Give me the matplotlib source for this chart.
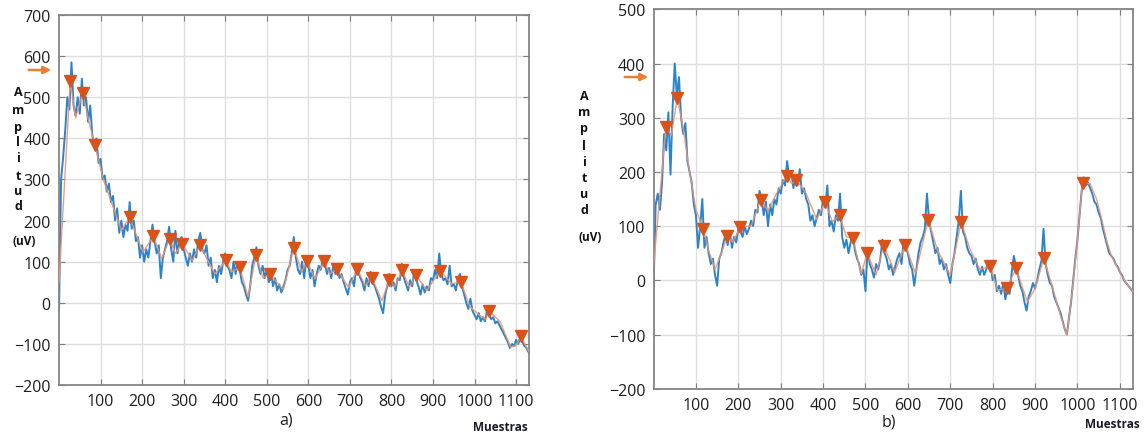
import matplotlib
matplotlib.use("Agg")
import matplotlib.pyplot as plt
from matplotlib.patches import FancyArrowPatch
import numpy as np

plt.rcParams['font.family'] = ['Open Sans', 'DejaVu Sans']

# raw signal, one value every 5 samples
raw_step = 5
raw_a = [
    -20, 300, 355, 420, 500, 470, 585, 480, 455, 500, 460, 545, 480, 500, 440, 480, 410, 380, 400, 340,
    350, 300, 310, 270, 290, 245, 260, 200, 230, 170, 200, 160, 190, 175, 245, 180, 200, 150, 160, 110,
    140, 100, 130, 110, 150, 190, 150, 120, 140, 60, 110, 130, 150, 185, 130, 100, 175, 120, 150, 160,
    130, 110, 90, 120, 100, 130, 110, 150, 170, 130, 120, 140, 90, 110, 60, 80, 50, 90, 70, 100,
    120, 90, 80, 60, 100, 70, 100, 80, 50, 40, 20, 5, 40, 90, 110, 135, 90, 70, 90, 60,
    80, 50, 75, 40, 60, 30, 45, 25, 40, 55, 80, 90, 120, 160, 110, 80, 70, 100, 60, 110,
    90, 60, 80, 40, 70, 90, 80, 110, 95, 70, 85, 60, 90, 70, 95, 60, 70, 50, 35, 20,
    50, 60, 40, 85, 75, 60, 50, 30, 60, 40, 75, 50, 40, 25, 10, -10, -25, 20, 40, 70,
    40, 50, 30, 60, 55, 95, 60, 45, 30, 55, 40, 80, 55, 40, 20, 45, 25, 40, 30, 60,
    55, 80, 60, 120, 70, 55, 60, 45, 90, 40, 45, 30, 60, 70, 40, 20, 0, -15, 10, -20,
    -30, -40, -25, -45, -35, -45, -20, -30, -40, -35, -50, -45, -55, -65, -75, -85, -95, -110, -100, -105,
    -90, -100, -85, -95, -105, -110, -120,
]
raw_b = [
    -15, 140, 160, 130, 180, 270, 240, 310, 195, 320, 400, 340, 375, 300, 270, 290, 220, 200, 180, 140,
    120, 60, 100, 150, 60, 80, 50, 30, 40, 10, -10, 40, 50, 70, 85, 65, 90, 60, 80, 70,
    95, 90, 80, 100, 85, 95, 110, 100, 130, 125, 165, 150, 120, 145, 100, 140, 120, 150, 140, 170,
    160, 185, 175, 220, 190, 200, 170, 195, 175, 205, 160, 170, 150, 140, 110, 120, 100, 115, 130, 120,
    150, 135, 175, 100, 110, 90, 120, 110, 160, 80, 60, 75, 50, 70, 85, 55, 40, 30, 10, 20,
    -20, 60, 30, 20, 5, 30, 20, 40, 75, 50, 40, 20, 30, 10, 25, 40, 50, 30, 75, 60,
    50, 30, 20, -10, 20, 50, 70, 80, 95, 160, 110, 90, 70, 50, 60, 30, 40, 20, 30, 10,
    -5, 30, 50, 80, 110, 165, 90, 80, 60, 50, 45, 30, 40, 20, 10, 25, 10, 20, 35, 30,
    0, 10, -20, -10, -25, -5, -35, -15, -25, 15, 45, 25, 10, -10, -20, -40, -56, -30, -20, -5,
    -15, 0, 20, 35, 95, 30, 10, -5, -10, -30, -40, -50, -60, -75, -90, -100, -70, -40, 0, 40,
    75, 119, 165, 190, 175, 180, 170, 160, 145, 140, 125, 115, 95, 80, 65, 50, 45, 40, 30, 25,
    15, 10, 0, -5, -10, -15, -20, -25,
]

# filtered signal (breakpoints)
filt_a_x = [0, 27, 40, 57, 72, 86, 106, 126, 150, 170, 202, 227, 247, 266, 280, 296, 321, 339, 375,
            401, 415, 435, 455, 474, 491, 507, 540, 565, 584, 597, 616, 638, 652, 668, 697, 718,
            737, 753, 777, 795, 808, 826, 843, 859, 885, 917, 945, 967, 989, 1013, 1027, 1035,
            1061, 1087, 1100, 1111, 1130]
filt_a_y = [50, 539, 450, 511, 440, 385, 302, 245, 176, 208, 123, 162, 107, 155, 120, 144, 103, 140, 70,
            103, 75, 86, 14, 116, 60, 69, 32, 134, 75, 101, 58, 101, 70, 83, 37, 81,
            42, 61, 5, 56, 38, 79, 38, 67, 30, 78, 46, 51, -10, -31, -40, -20,
            -45, -108, -104, -81, -117]
filt_b_x = [0, 29, 42, 56, 70, 85, 100, 117, 130, 145, 160, 174, 187, 205, 230, 253, 270, 290, 314,
            326, 337, 360, 385, 405, 422, 439, 455, 470, 490, 504, 525, 543, 569, 594, 618, 648,
            670, 700, 726, 745, 770, 793, 812, 833, 855, 882, 900, 921, 940, 960, 975, 985, 998,
            1005, 1012, 1030, 1045, 1055, 1070, 1080, 1100, 1115, 1135]
filt_b_y = [25, 282, 268, 337, 280, 200, 130, 95, 55, 20, 50, 82, 70, 99, 100, 149, 128, 160, 193,
            178, 186, 160, 112, 145, 108, 120, 80, 78, 12, 50, 10, 64, 15, 66, 12, 112,
            55, 10, 108, 60, 20, 26, -18, -15, 22, -40, -15, 41, -10, -65, -101, -40, 58,
            119, 180, 178, 150, 120, 70, 45, 15, -5, -25]

# detected peaks
peaks_a_x = [27, 57, 86, 170, 227, 266, 296, 339, 401, 435, 474, 507, 565, 597, 638, 668, 718,
             753, 795, 826, 859, 917, 967, 1035, 1111]
peaks_a_y = [539, 511, 385, 208, 162, 155, 144, 140, 103, 86, 116, 69, 134, 101, 101, 83, 81,
             61, 56, 79, 67, 78, 51, -20, -81]
peaks_b_x = [29, 56, 117, 174, 205, 253, 314, 337, 405, 439, 470, 504, 543, 594, 648, 726, 793,
             833, 855, 921, 1012]
peaks_b_y = [282, 337, 95, 82, 99, 149, 193, 186, 145, 120, 78, 50, 64, 66, 112, 108, 26,
             -15, 22, 41, 180]

xticks = [100, 200, 300, 400, 500, 600, 700, 800, 900, 1000, 1100]

W, H = 1148, 435
fig = plt.figure(figsize=(W / 100, H / 100), dpi=100)
ax_a = fig.add_axes([0.0514, 0.1126, 0.4094, 0.8506])
ax_b = fig.add_axes([0.5693, 0.1041, 0.4176, 0.8722])

BLUE = '#2a84cc'
ORANGE_LINE = '#f0936a'
ORANGE_MARK = '#d95319'


def draw_panel(ax, raw, fx, fy, px, py, ylim):
    t = np.arange(len(raw)) * raw_step
    ax.plot(t, raw, color=BLUE, lw=1.4, zorder=2)
    ax.plot(fx, fy, color=ORANGE_LINE, lw=1.0, alpha=0.9, zorder=3)
    ax.plot(px, py, 'v', color=ORANGE_MARK, ms=8, zorder=4, ls='none')
    ax.set_xlim(0, 1131)
    ax.set_ylim(*ylim)
    ax.set_xticks(xticks)
    ax.set_yticks(np.arange(ylim[0], ylim[1] + 1, 100))
    ax.grid(True, color='#dedede', lw=1.0, zorder=0)
    ax.set_axisbelow(True)
    ax.tick_params(direction='in', length=4, width=0.8, color='#7f7f7f',
                   top=True, right=True, labelsize=11.5, labelcolor='#1e1e1e', pad=6)
    for s in ax.spines.values():
        s.set_color('#858585')
        s.set_linewidth(1.3)


draw_panel(ax_a, raw_a, filt_a_x, filt_a_y, peaks_a_x, peaks_a_y, (-200, 700))
draw_panel(ax_b, raw_b, filt_b_x, filt_b_y, peaks_b_x, peaks_b_y, (-200, 500))


def fx_(px):
    return px / W


def fy_(py):
    return 1 - py / H


# stacked y label
letters = list("Amplitud")
rows_a = [93, 111, 127, 143, 159, 177, 192, 207]
rows_b = [97, 112, 129, 146, 162, 178, 194, 211]
for ch, ra, rb in zip(letters, rows_a, rows_b):
    fig.text(fx_(18), fy_(ra), ch, ha='center', va='center', fontsize=9, fontweight='bold', color='#111111')
    fig.text(fx_(584), fy_(rb), ch, ha='center', va='center', fontsize=9, fontweight='bold', color='#111111')
fig.text(fx_(24), fy_(242), '(uV)', ha='center', va='center', fontsize=8.5, fontweight='bold', color='#111111')
fig.text(fx_(590), fy_(238), '(uV)', ha='center', va='center', fontsize=8.5, fontweight='bold', color='#111111')

# x labels and panel captions
fig.text(fx_(528), fy_(428), 'Muestras', ha='right', va='center', fontsize=8.5, fontweight='bold', color='#1a1a2a')
fig.text(fx_(1140), fy_(425), 'Muestras', ha='right', va='center', fontsize=8.5, fontweight='bold', color='#1a1a2a')
fig.text(fx_(286), fy_(421), 'a)', ha='center', va='center', fontsize=11.5, color='#1e1e1e')
fig.text(fx_(889), fy_(423), 'b)', ha='center', va='center', fontsize=11.5, color='#1e1e1e')

# threshold arrows
for (x0, x1, y) in [(26, 54, 71), (622, 651, 78)]:
    arr = FancyArrowPatch((fx_(x0), fy_(y)), (fx_(x1), fy_(y)), transform=fig.transFigure,
                          arrowstyle='-|>', mutation_scale=11, lw=1.8, color='#ed7d31')
    fig.patches.append(arr)

fig.savefig('out.png', dpi=100)
